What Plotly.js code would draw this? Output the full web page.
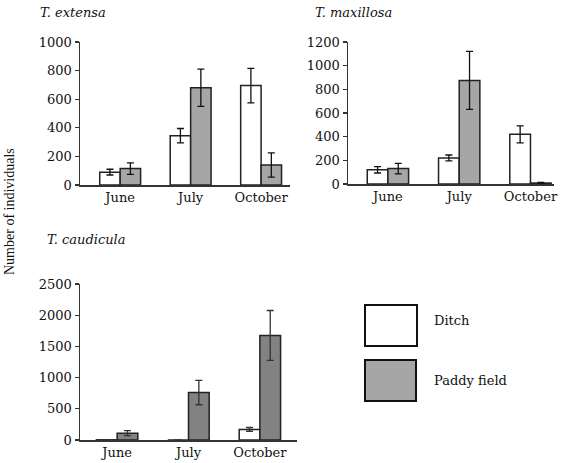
<!DOCTYPE html>
<html>
<head>
<meta charset="utf-8">
<script src="https://cdn.plot.ly/plotly-3.0.1.min.js"></script>
<style>html,body{margin:0;padding:0;background:#fff;}#chart{width:568px;height:463px;}</style>
</head>
<body>
<div id="chart"></div>
<script>
// Data
const months = ["June", "July", "October"];

const extensaDitch = [90, 345, 695];
const extensaDitchErr = [20, 50, 120];
const extensaPaddy = [115, 680, 140];
const extensaPaddyErr = [40, 130, 85];

const maxillosaDitch = [120, 220, 420];
const maxillosaDitchErr = [27, 25, 72];
const maxillosaPaddy = [130, 875, 8];
const maxillosaPaddyErr = [45, 245, 5];

const caudiculaDitch = [3, 0, 170];
const caudiculaDitchErr = [0, 0, 30];
const caudiculaPaddy = [110, 760, 1675];
const caudiculaPaddyErr = [40, 195, 400];

const seriesNames = ["Ditch", "Paddy field"];

const W = 568, H = 463;
const serif = "DejaVu Serif, serif";

function bar(y, err, name, color, xa, ya, lineColor, errColor) {
  return {
    type: "bar", x: months, y: y, name: name, xaxis: xa, yaxis: ya,
    marker: {color: color, line: {color: lineColor, width: 1.5}},
    error_y: {type: "data", array: err, visible: true, color: errColor, thickness: 1.3, width: 3.5},
    showlegend: false, hoverinfo: "skip"
  };
}

const data = [
  bar(extensaDitch, extensaDitchErr, seriesNames[0], "#ffffff", "x", "y", "#222", "#111"),
  bar(extensaPaddy, extensaPaddyErr, seriesNames[1], "#a6a6a6", "x", "y", "#222", "#111"),
  bar(maxillosaDitch, maxillosaDitchErr, seriesNames[0], "#ffffff", "x2", "y2", "#222", "#111"),
  bar(maxillosaPaddy, maxillosaPaddyErr, seriesNames[1], "#a6a6a6", "x2", "y2", "#222", "#111"),
  bar(caudiculaDitch, caudiculaDitchErr, seriesNames[0], "#ffffff", "x3", "y3", "#222", "#333"),
  bar(caudiculaPaddy, caudiculaPaddyErr, seriesNames[1], "#828282", "x3", "y3", "#222", "#333")
];

function px(x) { return x / W; }
function py(y) { return 1 - y / H; }

const tickFont = {family: serif, size: 13, color: "#111"};
function xax(d, r, anchor) {
  return {domain: d, range: r, anchor: anchor, showline: true, linecolor: "#333", linewidth: 1.5,
    ticks: "", showgrid: false, zeroline: false, tickfont: tickFont, fixedrange: true};
}
function yax(d, r, dt, anchor) {
  return {domain: d, range: r, dtick: dt, anchor: anchor, showline: true, linecolor: "#333", linewidth: 1.5,
    ticks: "outside", ticklen: 4, tickwidth: 1.3, tickcolor: "#333", showgrid: false, zeroline: false,
    tickfont: tickFont, fixedrange: true};
}

const layout = {
  width: W, height: H,
  margin: {l: 0, r: 0, t: 0, b: 0},
  paper_bgcolor: "#fff", plot_bgcolor: "#fff",
  barmode: "group", bargap: 0.42, bargroupgap: 0,
  showlegend: false,
  xaxis: xax([px(80), px(290)], [-0.57, 2.41], "y"),
  yaxis: yax([py(185), py(42)], [0, 1000], 200, "x"),
  xaxis2: xax([px(348), px(554)], [-0.56, 2.33], "y2"),
  yaxis2: yax([py(184), py(42)], [0, 1200], 200, "x2"),
  xaxis3: xax([px(80), px(297)], [-0.52, 2.52], "y3"),
  yaxis3: yax([py(440), py(284)], [0, 2500], 500, "x3"),
  shapes: [
    {type: "rect", xref: "paper", yref: "paper", x0: px(365), x1: px(417), y0: py(346), y1: py(305),
      fillcolor: "#ffffff", line: {color: "#111", width: 2}},
    {type: "rect", xref: "paper", yref: "paper", x0: px(365), x1: px(416), y0: py(401), y1: py(360),
      fillcolor: "#a6a6a6", line: {color: "#111", width: 2}}
  ],
  annotations: [
    {text: "<i>T. extensa</i>", xref: "paper", yref: "paper", x: px(38), y: py(12), xanchor: "left", yanchor: "middle",
      showarrow: false, font: {family: serif, size: 13, color: "#111"}},
    {text: "<i>T. maxillosa</i>", xref: "paper", yref: "paper", x: px(313), y: py(12), xanchor: "left", yanchor: "middle",
      showarrow: false, font: {family: serif, size: 13, color: "#111"}},
    {text: "<i>T. caudicula</i>", xref: "paper", yref: "paper", x: px(45), y: py(239), xanchor: "left", yanchor: "middle",
      showarrow: false, font: {family: serif, size: 13, color: "#111"}},
    {text: "Number of individuals", xref: "paper", yref: "paper", x: px(9), y: py(212), xanchor: "center", yanchor: "middle",
      textangle: -90, showarrow: false, font: {family: "Liberation Serif, serif", size: 14, color: "#111"}},
    {text: seriesNames[0], xref: "paper", yref: "paper", x: px(432), y: py(320), xanchor: "left", yanchor: "middle",
      showarrow: false, font: {family: serif, size: 13, color: "#111"}},
    {text: seriesNames[1], xref: "paper", yref: "paper", x: px(432), y: py(380), xanchor: "left", yanchor: "middle",
      showarrow: false, font: {family: serif, size: 13, color: "#111"}}
  ]
};

Plotly.newPlot("chart", data, layout, {displayModeBar: false, staticPlot: true});
</script>
</body>
</html>
